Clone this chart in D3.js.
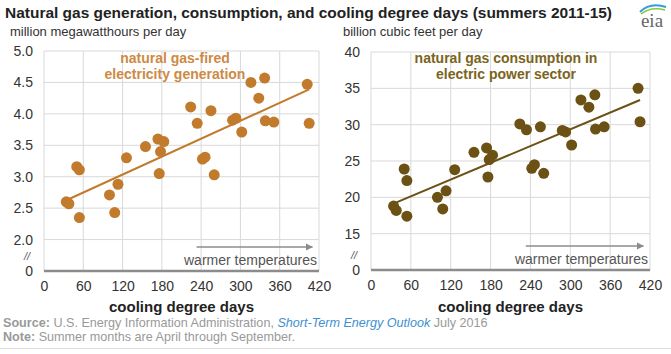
<!DOCTYPE html>
<html>
<head>
<meta charset="utf-8">
<script src="https://cdn.jsdelivr.net/npm/d3@7"></script>
<style>
  body { margin: 0; background: #fff; }
  svg { font-family: "Liberation Sans", Arial, sans-serif; }
</style>
</head>
<body>
<div id="chart"></div>
<script>
// cooling degree days per summer month (shared x for both panels)
const cdd = [34, 38, 50, 54, 54, 100, 108, 113, 126, 155, 174, 176, 178, 183, 224, 234, 242, 246, 255, 260, 288, 293, 302, 316, 328, 337, 338, 351, 402, 405];
// million MWh per day
const generation = [2.60, 2.57, 3.16, 3.11, 2.35, 2.71, 2.43, 2.88, 3.30, 3.48, 3.60, 3.05, 3.40, 3.56, 4.11, 3.85, 3.28, 3.31, 4.05, 3.03, 3.90, 3.93, 3.71, 4.50, 4.25, 4.57, 3.89, 3.87, 4.47, 3.85];
// billion cubic feet per day
const consumption = [18.8, 18.2, 23.9, 22.3, 17.4, 20.0, 18.4, 20.9, 23.8, 26.2, 26.8, 22.8, 25.2, 25.8, 30.1, 29.3, 24.0, 24.5, 29.7, 23.3, 29.2, 29.0, 27.2, 33.4, 32.4, 34.1, 29.4, 29.7, 35.0, 30.4];
// trend line end points [cdd, value]
const genTrend = [[35, 2.63], [405, 4.39]];
const consTrend = [[33, 19.1], [405, 33.4]];

const xTicks = [0, 60, 120, 180, 240, 300, 360, 420];
const genTicks = [1.5, 2.0, 2.5, 3.0, 3.5, 4.0, 4.5, 5.0];   // 1.5 shown as broken-axis "0"
const consTicks = [10, 15, 20, 25, 30, 35, 40];              // 10 shown as "0"

const W = 671, H = 354;
const svg = d3.select("#chart").append("svg")
    .attr("width", W)
    .attr("height", H);

// title + units
svg.append("text")
    .attr("x", 5).attr("y", 18)
    .attr("font-size", 15).attr("font-weight", "bold").attr("fill", "#222")
    .attr("textLength", 607).attr("lengthAdjust", "spacingAndGlyphs")
    .text("Natural gas generation, consumption, and cooling degree days (summers 2011-15)");
svg.append("text")
    .attr("x", 10).attr("y", 36)
    .attr("font-size", 13).attr("fill", "#333")
    .text("million megawatthours per day");
svg.append("text")
    .attr("x", 343).attr("y", 36)
    .attr("font-size", 13).attr("fill", "#333")
    .text("billion cubic feet per day");

// eia logo
const logo = svg.append("g").attr("transform", "translate(636,0)");
logo.append("path").attr("d", "M4,12 Q14,2 30,7").attr("fill", "none").attr("stroke", "#2e9fd8").attr("stroke-width", 2);
logo.append("path").attr("d", "M5,14 Q15,6 29,10").attr("fill", "none").attr("stroke", "#8dc63f").attr("stroke-width", 1.5);
logo.append("text").attr("x", 16).attr("y", 27)
    .attr("text-anchor", "middle")
    .attr("font-family", "'Liberation Serif', 'DejaVu Serif', serif")
    .attr("font-size", 19).attr("fill", "#666")
    .text("eia");

const panel = (opts) => {
    const g = svg.append("g");
    const x = d3.scaleLinear().domain([0, 420]).range([opts.left, opts.right]);
    const y = d3.scaleLinear().domain(opts.domain).range([opts.bottom, opts.top]);

    // grid
    g.append("g").selectAll("line").data(xTicks).enter().append("line")
        .attr("x1", d => x(d)).attr("x2", d => x(d))
        .attr("y1", opts.top).attr("y2", opts.bottom)
        .attr("stroke", "#d9d9d9").attr("stroke-width", 1);
    g.append("g").selectAll("line").data(opts.yTicks.slice(1)).enter().append("line")
        .attr("x1", opts.left).attr("x2", opts.right)
        .attr("y1", d => y(d)).attr("y2", d => y(d))
        .attr("stroke", "#d9d9d9").attr("stroke-width", 1);

    // axes
    const axisX = d3.axisBottom(x).tickValues(xTicks).tickSize(0).tickPadding(10);
    const axisY = d3.axisLeft(y).tickValues(opts.yTicks).tickSize(0).tickPadding(8)
        .tickFormat(d => d === opts.domain[0] ? "0" : opts.fmt(d));
    const ax = g.append("g").attr("transform", `translate(0,${opts.bottom})`).call(axisX);
    const ay = g.append("g").attr("transform", `translate(${opts.left - 3},0)`).call(axisY);
    [ax, ay].forEach(a => {
        a.select(".domain").remove();
        a.selectAll("text").attr("font-size", 14).attr("fill", "#333")
            .attr("font-family", "'Liberation Sans', Arial, sans-serif");
    });
    ax.selectAll("text").attr("dy", "0.71em");
    g.append("line")
        .attr("x1", opts.left).attr("x2", opts.right)
        .attr("y1", opts.bottom).attr("y2", opts.bottom)
        .attr("stroke", "#8c8c8c").attr("stroke-width", 2.5);

    // axis break mark
    g.append("text")
        .attr("x", opts.left - 17).attr("y", opts.bottom - 11)
        .attr("text-anchor", "middle")
        .attr("font-size", 11).attr("font-style", "italic").attr("fill", "#555")
        .text("//");

    // x title
    g.append("text")
        .attr("x", (opts.left + opts.right) / 2).attr("y", 312)
        .attr("text-anchor", "middle")
        .attr("font-size", 15).attr("font-weight", "bold").attr("fill", "#222")
        .text("cooling degree days");

    // warmer temperatures arrow
    g.append("defs").append("marker")
        .attr("id", "arr" + opts.id)
        .attr("viewBox", "0 0 10 10").attr("refX", 9).attr("refY", 5)
        .attr("markerWidth", 5).attr("markerHeight", 5).attr("orient", "auto")
        .append("path").attr("d", "M0,0 L10,5 L0,10 z").attr("fill", "#8c8c8c");
    g.append("line")
        .attr("x1", x(233)).attr("x2", x(410))
        .attr("y1", opts.bottom - 24).attr("y2", opts.bottom - 24)
        .attr("stroke", "#8c8c8c").attr("stroke-width", 1.5)
        .attr("marker-end", `url(#arr${opts.id})`);
    g.append("text")
        .attr("x", x(417)).attr("y", opts.bottom - 6)
        .attr("text-anchor", "end")
        .attr("font-size", 14).attr("fill", "#555")
        .text("warmer temperatures");

    // trend line
    g.append("path")
        .datum(opts.trend)
        .attr("d", d3.line().x(d => x(d[0])).y(d => y(d[1])))
        .attr("fill", "none").attr("stroke", opts.color).attr("stroke-width", 2);

    // points
    g.append("g").selectAll("circle")
        .data(cdd.map((c, i) => [c, opts.values[i]]))
        .enter().append("circle")
        .attr("cx", d => x(d[0])).attr("cy", d => y(d[1]))
        .attr("r", 5.5)
        .attr("fill", opts.color);

    // series label
    const lab = g.append("text")
        .attr("x", opts.labelX).attr("y", 63)
        .attr("text-anchor", "middle")
        .attr("font-size", 14).attr("font-weight", "bold").attr("fill", opts.labelColor);
    opts.label.forEach((t, i) => {
        lab.append("tspan").attr("x", opts.labelX).attr("dy", i ? 16 : 0).text(t);
    });
};

panel({
    id: "a", left: 44, right: 319, top: 51, bottom: 271,
    domain: [1.5, 5.0], yTicks: genTicks, fmt: d3.format(".1f"),
    values: generation, trend: genTrend,
    color: "#c27a2c", labelColor: "#cc8a45", labelX: 175,
    label: ["natural gas-fired", "electricity generation"]
});
panel({
    id: "b", left: 371, right: 650, top: 52, bottom: 270,
    domain: [10, 40], yTicks: consTicks, fmt: d3.format("d"),
    values: consumption, trend: consTrend,
    color: "#6b5113", labelColor: "#7a6420", labelX: 506,
    label: ["natural gas consumption in", "electric power sector"]
});

// source / note
const src = svg.append("text").attr("x", 3).attr("y", 327).attr("font-size", 12.6).attr("fill", "#999");
src.append("tspan").attr("font-weight", "bold").text("Source:");
src.append("tspan").text(" U.S. Energy Information Administration, ");
src.append("tspan").attr("font-style", "italic").attr("fill", "#3d8fd1").text("Short-Term Energy Outlook");
src.append("tspan").text(" July 2016");
const note = svg.append("text").attr("x", 3).attr("y", 341).attr("font-size", 12.6).attr("fill", "#999");
note.append("tspan").attr("font-weight", "bold").text("Note:");
note.append("tspan").text(" Summer months are April through September.");
svg.append("line")
    .attr("x1", 0).attr("x2", W).attr("y1", 348.5).attr("y2", 348.5)
    .attr("stroke", "#ddd").attr("stroke-width", 1);
</script>
</body>
</html>
